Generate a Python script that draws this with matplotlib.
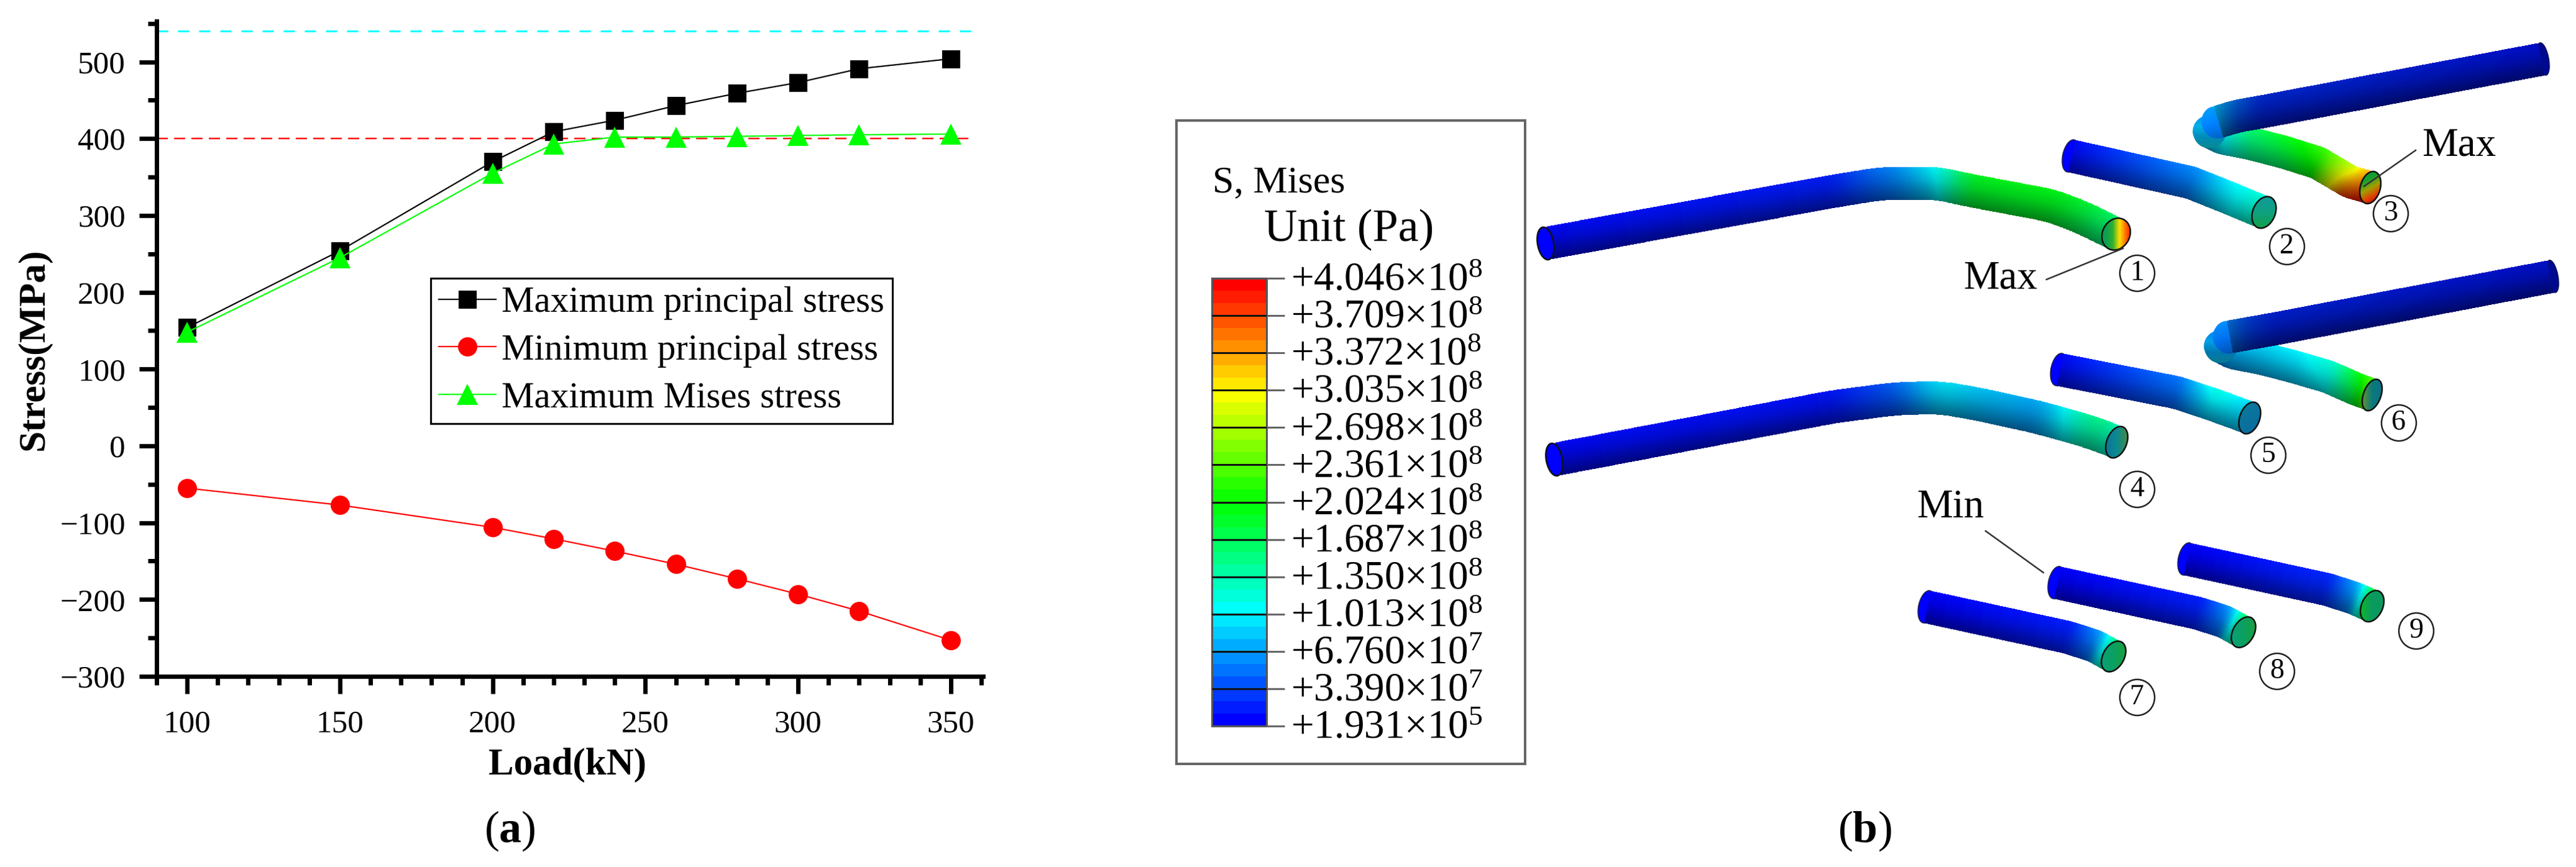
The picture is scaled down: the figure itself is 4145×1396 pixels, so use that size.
import numpy as np
import matplotlib
matplotlib.use("Agg")
import matplotlib.pyplot as plt
from matplotlib.colors import LinearSegmentedColormap, to_rgb
from matplotlib.patches import Ellipse, Rectangle

plt.rcParams['font.family'] = ['Liberation Serif', 'DejaVu Sans']
plt.rcParams['mathtext.fontset'] = 'custom'
plt.rcParams['mathtext.rm'] = 'Liberation Serif'
plt.rcParams['mathtext.it'] = 'Liberation Serif:italic'
plt.rcParams['mathtext.bf'] = 'Liberation Serif:bold'
plt.rcParams['mathtext.default'] = 'rm'
plt.rcParams['lines.scale_dashes'] = False

# panel (a) data
load = [100, 150, 200, 220, 240, 260, 280, 300, 320, 350]
max_principal = [154, 254, 370, 409, 424, 443, 459, 473, 491, 504]
min_principal = [-55, -77, -106, -121, -137, -154, -173, -193, -215, -253]
max_mises = [148, 245, 355, 393, 402, 402, 403, 404, 405, 406]
ultimate_stress = 540
yield_stress = 400

# panel (b) contour legend
contour_labels = ["+4.046×10$^{8}$", "+3.709×10$^{8}$", "+3.372×10$^{8}$", "+3.035×10$^{8}$",
                  "+2.698×10$^{8}$", "+2.361×10$^{8}$", "+2.024×10$^{8}$", "+1.687×10$^{8}$",
                  "+1.350×10$^{8}$", "+1.013×10$^{8}$", "+6.760×10$^{7}$", "+3.390×10$^{7}$",
                  "+1.931×10$^{5}$"]

# panel (b) tube centre lines (figure pixels), and stress (0-1) on upper/lower side
tube1 = [(2487, 392), (2950, 308), (3024, 296), (3050, 295), (3117, 295), (3167, 306), (3300, 331), (3350, 350), (3405, 377)]
tube1_top = [.01, .03, .12, .14, .26, .47, .48, .45, .38]
tube1_low = [.01, .03, .10, .12, .22, .45, .46, .42, .36]
tube2 = [(3332, 251), (3525, 294), (3580, 316), (3643, 342)]
tube2_top = [.01, .14, .24, .30]
tube2_low = [.01, .12, .22, .32]
tube3_leg = [(3555, 212), (3575, 222), (3621, 231), (3675, 245), (3729, 262), (3782, 293), (3814, 302)]
tube3_leg_top = [.20, .27, .40, .48, .55, .72, .85]
tube3_leg_low = [.16, .22, .35, .40, .50, .95, 1.0]
tube3_arm = [(3567, 197), (3600, 187), (3640, 180), (4092, 95)]
tube3_arm_top = [.20, .12, .05, .02]
tube3_arm_low = [.16, .06, .03, .02]
tube4 = [(2501, 740), (2950, 655), (3050, 642), (3120, 640), (3180, 650), (3280, 672), (3368, 697), (3406, 712)]
tube4_top = [.01, .02, .10, .24, .20, .17, .38, .30]
tube4_low = [.01, .02, .08, .20, .18, .15, .34, .28]
tube5 = [(3313, 595), (3502, 632), (3557, 650), (3620, 673)]
tube5_top = [.01, .12, .28, .22]
tube5_low = [.01, .10, .20, .20]
tube6_leg = [(3573, 558), (3593, 568), (3639, 577), (3693, 591), (3747, 607), (3790, 626), (3817, 636)]
tube6_leg_top = [.14, .20, .22, .24, .30, .50, .60]
tube6_leg_low = [.12, .16, .18, .20, .24, .42, .65]
tube6_arm = [(3585, 543), (3618, 537), (3658, 530), (4107, 445)]
tube6_arm_top = [.14, .08, .04, .02]
tube6_arm_low = [.12, .05, .03, .02]
tube7 = [(3100, 977), (3326, 1026), (3370, 1040), (3401, 1057)]
tube7_top = [.00, .03, .15, .45]
tube7_low = [.00, .03, .12, .40]
tube8 = [(3309, 938), (3535, 987), (3579, 1001), (3610, 1018)]
tube8_top = [.00, .03, .15, .50]
tube8_low = [.00, .03, .12, .42]
tube9 = [(3518, 900), (3744, 949), (3788, 963), (3817, 976)]
tube9_top = [.00, .04, .18, .55]
tube9_low = [.00, .04, .14, .45]

# circled numbers
number_labels = ["1", "2", "3", "4", "5", "6", "7", "8", "9"]
number_x = [3439, 3680, 3847, 3439, 3650, 3860, 3439, 3664, 3888]
number_y = [440, 397, 344, 788, 733, 681, 1123, 1081, 1016]

W, H = 4145, 1396
def pt(px):
    return px * 0.72

fig = plt.figure(figsize=(W / 100, H / 100), dpi=100)

# ---- panel (a)
left, right, top, bottom = 252, 1582, 34, 1089
ax = fig.add_axes([left / W, 1 - bottom / H, (right - left) / W, (bottom - top) / H])
ax.plot([90, 357.5], [ultimate_stress, ultimate_stress], color="#00ffff", lw=pt(3), dashes=(pt(18), pt(16)))
ax.plot([90, 357.5], [yield_stress, yield_stress], color="#ff0000", lw=pt(2.5), dashes=(pt(18), pt(10)))
ax.plot(load, max_principal, color="black", lw=pt(2.2), marker="s", ms=pt(29), mew=0, label="Maximum principal stress", clip_on=False)
ax.plot(load, min_principal, color="#ff0000", lw=pt(2.2), marker="o", ms=pt(31), mew=0, label="Minimum principal stress", clip_on=False)
ax.plot(load, max_mises, color="#00ff00", lw=pt(2.2), marker="^", ms=pt(34), mew=0, label="Maximum Mises stress", clip_on=False)
ax.set_xlim(90, 360.6)
ax.set_ylim(-300, 553)
ax.set_xticks([100, 150, 200, 250, 300, 350])
ax.set_xticks(np.arange(90, 361, 10), minor=True)
ax.set_yticks(np.arange(-300, 501, 100))
ax.set_yticks(np.arange(-250, 551, 100), minor=True)
ax.spines["top"].set_visible(False)
ax.spines["right"].set_visible(False)
ax.spines["left"].set_linewidth(pt(7))
ax.spines["bottom"].set_linewidth(pt(7))
ax.tick_params(which="major", length=pt(28), width=pt(7))
ax.tick_params(which="minor", length=pt(14), width=pt(7))
ax.tick_params(axis="both", which="major", labelsize=pt(51))
ax.tick_params(axis="x", which="major", pad=pt(26))
ax.tick_params(axis="y", which="major", pad=pt(22))
leg = ax.legend(loc="upper left", bbox_to_anchor=(693 / W, 1 - 448 / H), bbox_transform=fig.transFigure,
                fontsize=pt(59), numpoints=1, frameon=True, fancybox=False, framealpha=1, edgecolor="black",
                borderaxespad=0, borderpad=0.22, handlelength=1.56, handletextpad=0.15, labelspacing=0.38)
leg.get_frame().set_linewidth(pt(3))

# ---- panel (b), drawn on a full-figure axes in pixel units
ov = fig.add_axes([0, 0, 1, 1])
ov.set_xlim(0, W)
ov.set_ylim(H, 0)
ov.axis("off")

ov.text(55, 562, "Stress(MPa)", rotation=90, ha="center", va="center", fontsize=pt(62), fontweight="bold")
ov.text(913, 1232, "Load(kN)", ha="center", va="center", fontsize=pt(61), fontweight="bold")
ov.text(820, 1338, r"($\mathbf{a}$)", ha="center", va="center", fontsize=pt(72))
ov.text(3000, 1338, r"($\mathbf{b}$)", ha="center", va="center", fontsize=pt(72))

abaqus = LinearSegmentedColormap.from_list("abaqus", ["#0000ff", "#00ffff", "#00ff00", "#ffff00", "#ff0000"])

ov.add_patch(Rectangle((1893, 194), 561, 1036, fc="white", ec="#666666", lw=pt(4)))
ov.text(1951, 294, "S, Mises", ha="left", va="center", fontsize=pt(62))
ov.text(2034, 370, "Unit (Pa)", ha="left", va="center", fontsize=pt(74))

# 36 bands, 3 per labelled interval
bar_top, bar_bottom, bar_left, bar_right = 448, 1169, 1950, 2038
band_edges = np.linspace(bar_bottom, bar_top, 37)
band_values = np.linspace(0, 1, 36).reshape(-1, 1)
ov.pcolormesh([bar_left, bar_right], band_edges, band_values, cmap=abaqus, vmin=0, vmax=1, shading="flat")
ov.add_patch(Rectangle((bar_left, bar_top), bar_right - bar_left, bar_bottom - bar_top, fc="none", ec="#555555", lw=pt(3)))
label_y = np.linspace(bar_top, bar_bottom, len(contour_labels))
for yy, lab in zip(label_y, contour_labels):
    if bar_top < yy < bar_bottom:
        ov.plot([bar_left, bar_right], [yy, yy], color="#111111", lw=pt(3), solid_capstyle="butt")
    ov.plot([bar_right, 2067], [yy, yy], color="#666666", lw=pt(3), solid_capstyle="butt")
    ov.text(2077, yy + 4, lab, ha="left", va="center", fontsize=pt(65))


def ribbon(pts, s_top, s_low, hw=26.5, n=500, dim=1.0, z=1):
    pts = np.array(pts, dtype=float)
    dist = np.r_[0, np.cumsum(np.hypot(*np.diff(pts, axis=0).T))]
    d = np.linspace(0, dist[-1], n)
    kernel = np.ones(25) / 25

    def smooth(v):
        v = np.interp(d, dist, v)
        return np.convolve(np.pad(v, 12, mode="edge"), kernel, mode="valid")

    x, y = smooth(pts[:, 0]), smooth(pts[:, 1])
    top, low = smooth(s_top), smooth(s_low)
    tx, ty = np.gradient(x), np.gradient(y)
    norm = np.hypot(tx, ty)
    tx, ty = tx / norm, ty / norm
    t = np.linspace(-1, 1, 33)
    X = x[:, None] - t[None, :] * hw * ty[:, None]
    Y = y[:, None] + t[None, :] * hw * tx[:, None]
    tc = (t[:-1] + t[1:]) / 2
    sc = (top[:-1, None] + top[1:, None]) / 2 * (1 - tc) / 2 + (low[:-1, None] + low[1:, None]) / 2 * (1 + tc) / 2
    shade = np.interp(tc, [-1, -0.2, 1], [1.0, 0.85, 0.52]) * dim
    C = abaqus(sc)[..., :3] * shade[None, :, None]
    ov.pcolormesh(X, Y, C, shading="flat", linewidth=0, zorder=z)


def cap(center, toward, a, colors, grad=0, b=26.5, edge="#111111", elw=2.5, z=5):
    angle = np.degrees(np.arctan2(toward[1] - center[1], toward[0] - center[0]))
    ell = Ellipse(center, 2 * a, 2 * b, angle=angle, fc="none", ec=edge, lw=pt(elw), zorder=z)
    ov.add_patch(ell)
    cols = np.array([to_rgb(c) for c in colors])
    xs = np.linspace(center[0] - 30, center[0] + 30, 41)
    ys = np.linspace(center[1] - 30, center[1] + 30, 41)
    xc, yc = np.meshgrid((xs[:-1] + xs[1:]) / 2, (ys[:-1] + ys[1:]) / 2)
    g = np.radians(grad)
    proj = ((xc - center[0]) * np.cos(g) + (yc - center[1]) * np.sin(g)) / 27
    pos = np.clip((proj + 1) / 2, 0, 1) * (len(cols) - 1)
    C = np.dstack([np.interp(pos, np.arange(len(cols)), cols[:, k]) for k in range(3)])
    mesh = ov.pcolormesh(xs, ys, C, shading="flat", zorder=z - 1)
    mesh.set_clip_path(ell)


blue = ["#0000ff"]
navy = ["#000a90"]

# rounded far ends go under the ribbons, the cut faces go on top
for start, nxt in [(tube2[0], tube2[1]), (tube5[0], tube5[1]), (tube7[0], tube7[1]), (tube8[0], tube8[1]), (tube9[0], tube9[1])]:
    cap(start, nxt, 13, blue, edge="#222244", elw=1.5, z=1)
cap(tube3_arm[-1], tube3_arm[-2], 9, navy, edge="#000a50", elw=1.5, z=1)
cap(tube6_arm[-1], tube6_arm[-2], 9, navy, edge="#000a50", elw=1.5, z=1)

ribbon(tube1, tube1_top, tube1_low, dim=0.95)
ribbon(tube2, tube2_top, tube2_low)
ribbon(tube4, tube4_top, tube4_low, dim=0.95)
ribbon(tube5, tube5_top, tube5_low)
ribbon(tube7, tube7_top, tube7_low)
ribbon(tube8, tube8_top, tube8_low)
ribbon(tube9, tube9_top, tube9_low)

# folded tubes: lower leg, then the bend, then the upper arm over them
ribbon(tube3_leg, tube3_leg_top, tube3_leg_low)
cap(tube3_leg[0], tube3_leg[1], 27, ["#0090f0", "#00b0e8", "#008ab8", "#0a8a90"], grad=90, edge="none", elw=0, z=2.5)
cap(tube3_arm[0], tube3_arm[1], 24, ["#00a0ff", "#0080ff", "#0060c0"], grad=70, edge="none", elw=0, z=2.7)
ribbon(tube3_arm, tube3_arm_top, tube3_arm_low, dim=0.78, z=3)
ribbon(tube6_leg, tube6_leg_top, tube6_leg_low)
cap(tube6_leg[0], tube6_leg[1], 27, ["#0080f0", "#00a0e8", "#0078b0", "#0a7a90"], grad=90, edge="none", elw=0, z=2.5)
cap(tube6_arm[0], tube6_arm[1], 24, ["#0090ff", "#0070f0", "#0050b0"], grad=70, edge="none", elw=0, z=2.7)
ribbon(tube6_arm, tube6_arm_top, tube6_arm_low, dim=0.78, z=3)

cap(tube1[0], tube1[1], 13, blue)
cap(tube4[0], tube4[1], 13, blue)
cap(tube1[-1], tube1[-2], 22, ["#0aa050", "#0aa050", "#30b030", "#ffe000", "#ff6000", "#ff0000"])
cap(tube2[-1], tube2[-2], 18, ["#109a9a", "#0fa080", "#10a040"], grad=90)
cap(tube3_leg[-1], tube3_leg[-2], 16, ["#10a030", "#10a030", "#a0a000", "#e04000", "#c00000"], grad=60)
cap(tube4[-1], tube4[-2], 16, ["#0a6aa0", "#0a8a90", "#608a20"])
cap(tube5[-1], tube5[-2], 16, ["#0a7a9a", "#0a6aa0"], grad=60)
cap(tube6_leg[-1], tube6_leg[-2], 14, ["#a0a000", "#0a7a7a", "#0a6a90"])
cap(tube7[-1], tube7[-2], 17, ["#0aa080", "#0aa060", "#20a030"])
cap(tube8[-1], tube8[-2], 17, ["#0aa080", "#0aa060", "#20a030"])
cap(tube9[-1], tube9[-2], 17, ["#10c010", "#0a9a60", "#0a9a60"])

# callouts
ov.text(3219, 449, "Max", ha="center", va="center", fontsize=pt(65))
ov.plot([3293, 3416], [450, 400], color="#333333", lw=pt(2.5), zorder=6)
ov.text(3957, 235, "Max", ha="center", va="center", fontsize=pt(65))
ov.plot([3887, 3804], [242, 300], color="#333333", lw=pt(2.5), zorder=6)
ov.text(3138, 817, "Min", ha="center", va="center", fontsize=pt(65))
ov.plot([3195, 3288], [855, 922], color="#333333", lw=pt(2.5), zorder=6)

for xx, yy, lab in zip(number_x, number_y, number_labels):
    ov.add_patch(Ellipse((xx, yy), 56, 58, fc="white", ec="#222222", lw=pt(2.5), zorder=6))
    ov.text(xx, yy, lab, ha="center", va="center", fontsize=pt(46), zorder=7)

fig.savefig("out.png", dpi=100, facecolor="white")
